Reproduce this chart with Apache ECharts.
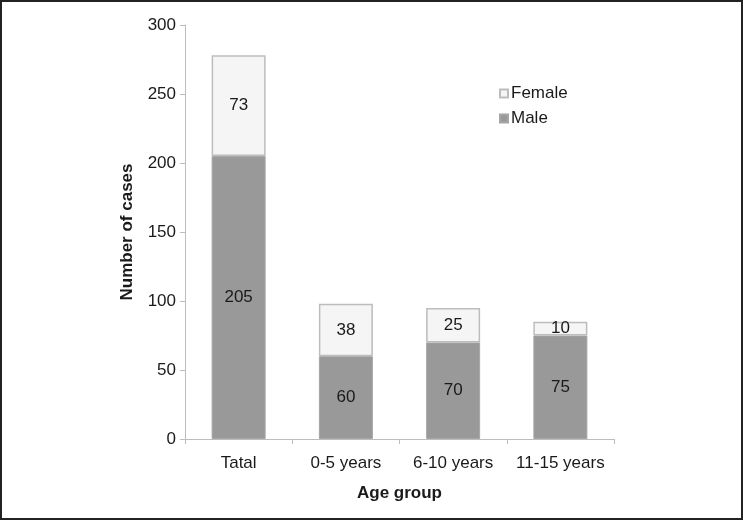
<!DOCTYPE html>
<html><head><meta charset="utf-8">
<script src="https://cdn.jsdelivr.net/npm/echarts@6/dist/echarts.min.js"></script>
<style>
html,body{margin:0;padding:0;background:#fff;}
#frame{width:743px;height:520px;box-sizing:border-box;border:2px solid #222;position:relative;overflow:hidden;}
#c{position:absolute;left:-2px;top:-2px;width:743px;height:520px;}
</style></head>
<body><div id="frame"><div id="c"></div></div>
<script>
const categories = ['Tatal', '0-5 years', '6-10 years', '11-15 years'];
const maleValues = [205, 60, 70, 75];
const femaleValues = [73, 38, 25, 10];
const yTicks = [0, 50, 100, 150, 200, 250, 300];

const chart = echarts.init(document.getElementById('c'), null, {renderer: 'canvas'});
const font = 'Liberation Sans, Arial, sans-serif';
const labelStyle = {show: true, position: 'inside', color: '#1a1a1a', fontSize: 17, fontFamily: font};
chart.setOption({
  animation: false,
  backgroundColor: 'transparent',
  grid: {left: 185, right: 129, top: 25, bottom: 81},
  legend: {
    data: ['Female', 'Male'], orient: 'vertical', left: 494, top: 80,
    itemWidth: 8, itemHeight: 8, itemGap: 8, icon: 'rect',
    textStyle: {fontSize: 17, color: '#1a1a1a', fontFamily: font, padding: [0, 0, 0, -2]}
  },
  xAxis: {
    type: 'category', data: categories,
    name: 'Age group', nameLocation: 'middle', nameGap: 46,
    nameTextStyle: {fontSize: 17, fontWeight: 'bold', color: '#1a1a1a', fontFamily: font},
    axisLine: {lineStyle: {color: '#bdbdbd', width: 1}},
    axisTick: {show: true, length: 5, lineStyle: {color: '#bdbdbd'}},
    axisLabel: {interval: 0, fontSize: 17, color: '#1a1a1a', fontFamily: font, margin: 16}
  },
  yAxis: {
    type: 'value', min: yTicks[0], max: yTicks[yTicks.length - 1], interval: 50,
    name: 'Number of cases', nameLocation: 'middle', nameGap: 49,
    nameTextStyle: {fontSize: 17, fontWeight: 'bold', color: '#1a1a1a', fontFamily: font},
    axisLine: {show: true, lineStyle: {color: '#bdbdbd', width: 1}},
    axisTick: {show: true, length: 5, lineStyle: {color: '#bdbdbd'}},
    splitLine: {show: false},
    axisLabel: {fontSize: 17, color: '#1a1a1a', fontFamily: font, margin: 9}
  },
  series: [
    {name: 'Male', type: 'bar', stack: 'total', data: maleValues, barWidth: 54,
     itemStyle: {color: '#999999', borderColor: '#a6a6a6', borderWidth: 1}, label: labelStyle},
    {name: 'Female', type: 'bar', stack: 'total', data: femaleValues, barWidth: 54,
     itemStyle: {color: '#f5f5f5', borderColor: '#bdbdbd', borderWidth: 1.5}, label: labelStyle}
  ]
});
</script></body></html>
